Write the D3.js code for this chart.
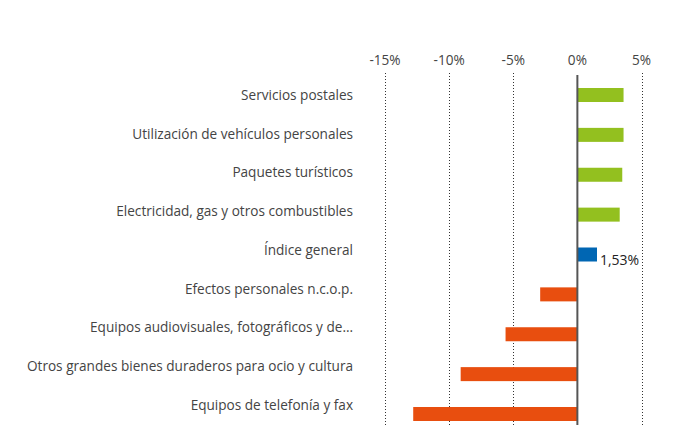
<html>
<head>
	<meta charset="utf-8">
	<script src="https://cdn.jsdelivr.net/npm/d3@7"></script>
	<style type="text/css">
	body{ margin: 0; background: #fff; }
	#chart{ width: 680px; height: 425px; }
	text{ font-family: "Open Sans", sans-serif; }
	</style>
</head>
<body>
	<div id="chart"></div>

<script type="text/javascript">

	// Data
	var categories = [
		"Servicios postales",
		"Utilización de vehículos personales",
		"Paquetes turísticos",
		"Electricidad, gas y otros combustibles",
		"Índice general",
		"Efectos personales n.c.o.p.",
		"Equipos audiovisuales, fotográficos y de…",
		"Otros grandes bienes duraderos para ocio y cultura",
		"Equipos de telefonía y fax"
	];
	var values = [3.6, 3.6, 3.5, 3.3, 1.53, -2.9, -5.6, -9.1, -12.8];
	var ticks = [-15, -10, -5, 0, 5];
	var highlight = "Índice general";

	var width = 680, height = 425;
	var green = "#93c01f", blue = "#0066b3", orange = "#e84e0f";
	var barH = 14;

	var svg = d3.select("#chart").append("svg")
		.attr("width", width)
		.attr("height", height);

	// Scales (labels and bars sit on slightly different steps, as in the source)
	var x = d3.scaleLinear().domain([-15, 5]).range([385, 641.5]);
	var yLabel = d3.scalePoint().domain(categories).range([95, 405]);
	var yBar = d3.scalePoint().domain(categories).range([95, 414]);

	// Gridlines (dotted)
	svg.append("g").selectAll("line")
		.data(ticks.filter(function(d){ return d != 0; }))
		.enter().append("line")
		.attr("x1", function(d){ return Math.round(x(d)) + 0.5; })
		.attr("x2", function(d){ return Math.round(x(d)) + 0.5; })
		.attr("y1", 73)
		.attr("y2", height)
		.attr("stroke", "#333")
		.attr("stroke-width", 1)
		.attr("stroke-dasharray", "1,2");

	// Tick labels
	svg.append("g").selectAll("text")
		.data(ticks)
		.enter().append("text")
		.attr("x", function(d){ return x(d); })
		.attr("y", 65)
		.attr("text-anchor", "middle")
		.attr("font-size", 13.6)
		.attr("fill", "#444")
		.text(function(d){ return d + "%"; });

	// Bars
	svg.append("g").selectAll("rect")
		.data(categories)
		.enter().append("rect")
		.attr("x", function(d, i){ return x(Math.min(0, values[i])); })
		.attr("y", function(d){ return yBar(d) - barH / 2; })
		.attr("width", function(d, i){ return Math.abs(x(values[i]) - x(0)); })
		.attr("height", barH)
		.attr("fill", function(d, i){
			if (d == highlight) { return blue; }
			return values[i] >= 0 ? green : orange;
		});

	// Zero line
	svg.append("line")
		.attr("x1", x(0))
		.attr("x2", x(0))
		.attr("y1", 75)
		.attr("y2", height)
		.attr("stroke", "#555")
		.attr("stroke-width", 2);

	// Category labels
	svg.append("g").selectAll("text")
		.data(categories)
		.enter().append("text")
		.attr("x", 353)
		.attr("y", function(d){ return yLabel(d); })
		.attr("dy", "0.35em")
		.attr("text-anchor", "end")
		.attr("font-size", 13.6)
		.attr("fill", "#444")
		.text(function(d){ return d; });

	// Value label for the general index
	var hi = categories.indexOf(highlight);
	svg.append("text")
		.attr("x", x(values[hi]) + 3)
		.attr("y", yBar(highlight) + barH / 2 + 3)
		.attr("font-size", 14)
		.attr("fill", "#222")
		.text(d3.format(".2f")(values[hi]).replace(".", ",") + "%");

</script>
</body>
</html>
